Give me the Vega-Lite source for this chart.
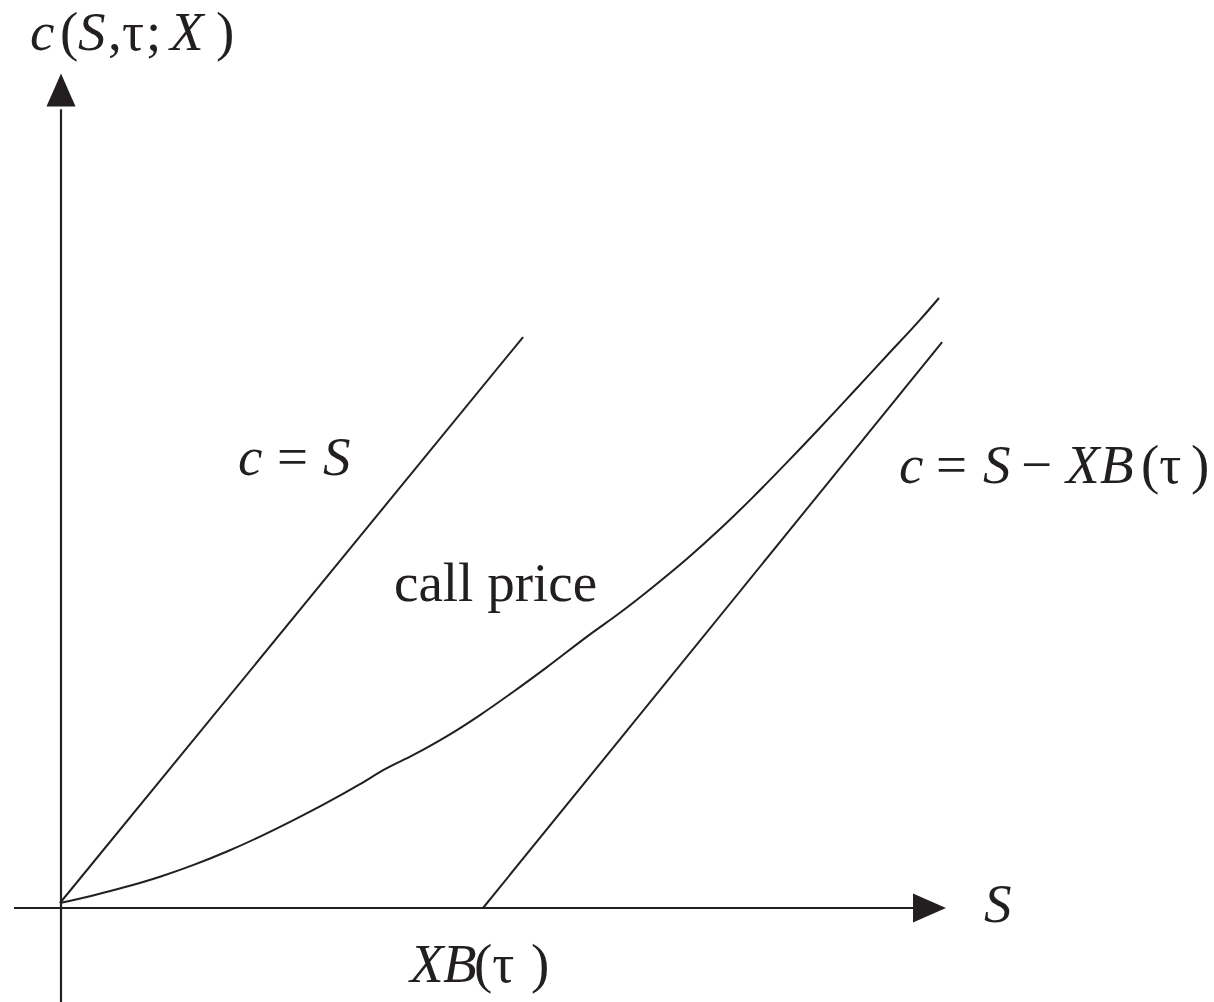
{
  "$schema": "https://vega.github.io/schema/vega-lite/v6.json",
  "width": 1214,
  "height": 1002,
  "autosize": "none",
  "padding": 0,
  "background": "white",
  "config": {"view": {"stroke": null}},
  "datasets": {
    "curves": [
      {"series": "c = S", "k": 0, "S": -0.24, "c": 0.96},
      {"series": "c = S", "k": 1, "S": 109.5, "c": 109.8},
      {"series": "c = S - XB", "k": 0, "S": 100, "c": 0},
      {"series": "c = S - XB", "k": 1, "S": 208.8, "c": 108.8},
      {"series": "call", "k": 0, "S": -0.24, "c": 0.96},
      {"series": "call", "k": 1, "S": 7.58, "c": 2.42},
      {"series": "call", "k": 2, "S": 15.64, "c": 4.12},
      {"series": "call", "k": 3, "S": 23.46, "c": 6.02},
      {"series": "call", "k": 4, "S": 31.28, "c": 8.25},
      {"series": "call", "k": 5, "S": 39.34, "c": 10.87},
      {"series": "call", "k": 6, "S": 47.16, "c": 13.73},
      {"series": "call", "k": 7, "S": 54.98, "c": 16.85},
      {"series": "call", "k": 8, "S": 63.03, "c": 20.25},
      {"series": "call", "k": 9, "S": 70.85, "c": 23.81},
      {"series": "call", "k": 10, "S": 76.78, "c": 26.69},
      {"series": "call", "k": 11, "S": 83.41, "c": 29.38},
      {"series": "call", "k": 12, "S": 91.47, "c": 33.04},
      {"series": "call", "k": 13, "S": 99.29, "c": 37.1},
      {"series": "call", "k": 14, "S": 107.11, "c": 41.54},
      {"series": "call", "k": 15, "S": 115.17, "c": 46.33},
      {"series": "call", "k": 16, "S": 125.36, "c": 52.62},
      {"series": "call", "k": 17, "S": 132.46, "c": 56.77},
      {"series": "call", "k": 18, "S": 140.28, "c": 61.73},
      {"series": "call", "k": 19, "S": 148.34, "c": 67.15},
      {"series": "call", "k": 20, "S": 156.16, "c": 72.87},
      {"series": "call", "k": 21, "S": 163.98, "c": 79.02},
      {"series": "call", "k": 22, "S": 172.04, "c": 85.69},
      {"series": "call", "k": 23, "S": 179.86, "c": 92.35},
      {"series": "call", "k": 24, "S": 187.68, "c": 99.19},
      {"series": "call", "k": 25, "S": 195.73, "c": 106.25},
      {"series": "call", "k": 26, "S": 203.55, "c": 113.1},
      {"series": "call", "k": 27, "S": 208.06, "c": 117.31}
    ],
    "axes": [
      {"axis": "S", "k": 0, "S": -11.14, "c": 0},
      {"axis": "S", "k": 1, "S": 202.5, "c": 0},
      {"axis": "c", "k": 0, "S": 0, "c": -18.1},
      {"axis": "c", "k": 1, "S": 0, "c": 153.6}
    ],
    "arrowRight": [{"S": 205.8, "c": 0}],
    "arrowUp": [{"S": 0, "c": 157.3}],
    "labels": [
      {"t": "c", "it": true, "S": -7.35, "c": 165.0},
      {"t": "(", "it": false, "S": -0.24, "c": 165.0},
      {"t": "S", "it": true, "S": 4.03, "c": 165.0},
      {"t": ",", "it": false, "S": 11.14, "c": 165.0},
      {"t": "τ", "it": false, "S": 14.45, "c": 165.0},
      {"t": ";", "it": false, "S": 20.14, "c": 165.0},
      {"t": "X", "it": true, "S": 25.83, "c": 165.0},
      {"t": ")", "it": false, "S": 36.73, "c": 165.0},

      {"t": "c", "it": true, "S": 41.94, "c": 83.27},
      {"t": "=", "it": false, "S": 51.18, "c": 83.27},
      {"t": "S", "it": true, "S": 62.09, "c": 83.27},

      {"t": "call price", "it": false, "S": 78.91, "c": 59.04},

      {"t": "c", "it": true, "S": 198.58, "c": 81.73},
      {"t": "=", "it": false, "S": 207.35, "c": 81.73},
      {"t": "S", "it": true, "S": 218.48, "c": 81.73},
      {"t": "−", "it": false, "S": 227.49, "c": 81.73},
      {"t": "X", "it": true, "S": 238.15, "c": 81.73},
      {"t": "B", "it": true, "S": 246.21, "c": 81.73},
      {"t": "(τ", "it": false, "S": 255.92, "c": 81.73},
      {"t": ")", "it": false, "S": 267.77, "c": 81.73},

      {"t": "S", "it": true, "S": 218.72, "c": -2.69},

      {"t": "X", "it": true, "S": 82.7, "c": -14.23},
      {"t": "B", "it": true, "S": 90.52, "c": -14.23},
      {"t": "(τ", "it": false, "S": 97.87, "c": -14.23},
      {"t": ")", "it": false, "S": 111.37, "c": -14.23}
    ]
  },
  "layer": [
    {
      "data": {"name": "axes"},
      "mark": {"type": "line", "color": "#231f20", "strokeWidth": 2.2},
      "encoding": {
        "x": {"field": "S", "type": "quantitative", "scale": {"domain": [-14.455, 273.223], "nice": false, "zero": false}, "axis": null},
        "y": {"field": "c", "type": "quantitative", "scale": {"domain": [-18.077, 174.615], "nice": false, "zero": false}, "axis": null},
        "detail": {"field": "axis"},
        "order": {"field": "k"}
      }
    },
    {
      "data": {"name": "curves"},
      "mark": {"type": "line", "color": "#231f20", "strokeWidth": 2, "interpolate": "monotone"},
      "encoding": {
        "x": {"field": "S", "type": "quantitative"},
        "y": {"field": "c", "type": "quantitative"},
        "detail": {"field": "series"},
        "order": {"field": "k"}
      }
    },
    {
      "data": {"name": "arrowRight"},
      "mark": {"type": "point", "shape": "M1,0L-1,-0.88L-1,0.88Z", "size": 1089, "filled": true, "color": "#231f20", "opacity": 1, "strokeWidth": 0},
      "encoding": {
        "x": {"field": "S", "type": "quantitative"},
        "y": {"field": "c", "type": "quantitative"}
      }
    },
    {
      "data": {"name": "arrowUp"},
      "mark": {"type": "point", "shape": "M0,-1L-0.88,1L0.88,1Z", "size": 1089, "filled": true, "color": "#231f20", "opacity": 1, "strokeWidth": 0},
      "encoding": {
        "x": {"field": "S", "type": "quantitative"},
        "y": {"field": "c", "type": "quantitative"}
      }
    },
    {
      "data": {"name": "labels"},
      "transform": [{"filter": "datum.it"}],
      "mark": {"type": "text", "font": "Liberation Serif", "fontStyle": "italic", "fontSize": 55, "align": "left", "baseline": "alphabetic", "color": "#231f20"},
      "encoding": {
        "x": {"field": "S", "type": "quantitative"},
        "y": {"field": "c", "type": "quantitative"},
        "text": {"field": "t"}
      }
    },
    {
      "data": {"name": "labels"},
      "transform": [{"filter": "!datum.it"}],
      "mark": {"type": "text", "font": "Liberation Serif", "fontSize": 55, "align": "left", "baseline": "alphabetic", "color": "#231f20"},
      "encoding": {
        "x": {"field": "S", "type": "quantitative"},
        "y": {"field": "c", "type": "quantitative"},
        "text": {"field": "t"}
      }
    }
  ]
}
